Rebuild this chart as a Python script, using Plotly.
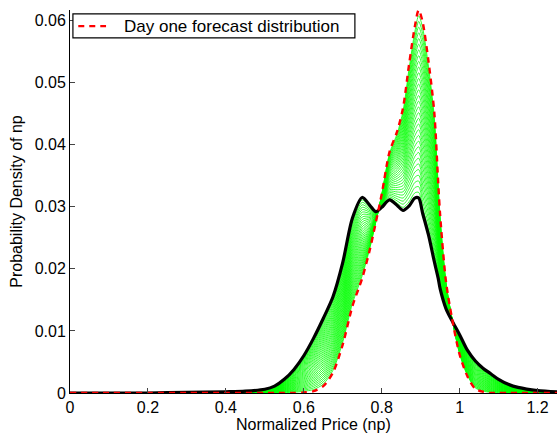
import plotly.graph_objects as go

# Normalized price grid (np)
price = [0, 0.1, 0.2, 0.3, 0.4, 0.45, 0.5, 0.525, 0.55, 0.575, 0.6, 0.625,
         0.65, 0.675, 0.7, 0.725, 0.75, 0.77, 0.785, 0.8, 0.82, 0.84, 0.855,
         0.87, 0.885, 0.895, 0.905, 0.92, 0.935, 0.945, 0.95, 0.965, 0.98,
         1.0, 1.02, 1.04, 1.06, 1.08, 1.1, 1.125, 1.15, 1.2, 1.25]

# Day one forecast density
day_one = [0, 0, 0, 0, 0, 0, 0, 0, 0, 0, 0.0001, 0.0003,
           0.0011, 0.0033, 0.0078, 0.014, 0.0185, 0.0232, 0.0275, 0.032, 0.0388, 0.0422, 0.046,
           0.0528, 0.059, 0.0617, 0.0598, 0.0535, 0.0452, 0.034, 0.0287, 0.018, 0.0122,
           0.0062, 0.0027, 0.0007, 0.0002, 0, 0, 0, 0, 0, 0]

# Final-day forecast density
final_day = [0, 0, 0, 0.0001, 0.0002, 0.0003, 0.0006, 0.0011, 0.0022, 0.0038, 0.006, 0.0088,
             0.012, 0.0155, 0.021, 0.0282, 0.0315, 0.0302, 0.0292, 0.0299, 0.0311, 0.0302, 0.0294,
             0.0301, 0.0314, 0.0314, 0.029, 0.0255, 0.0212, 0.0185, 0.0168, 0.0136, 0.0117,
             0.0094, 0.0069, 0.0052, 0.004, 0.0031, 0.0022, 0.0014, 0.0009, 0.0004, 0.0002]

# Number of intermediate daily forecasts between day one and the final day
n_days = 33

x_ticks = [0, 0.2, 0.4, 0.6, 0.8, 1.0, 1.2]
y_ticks = [0, 0.01, 0.02, 0.03, 0.04, 0.05, 0.06]

legend_label = "Day one forecast distribution"
x_title = "Normalized Price (np)"
y_title = "Probability Density of np"

RED_DASH = "6px,5px"
FAMILY = "Liberation Sans, Arial, sans-serif"

fig = go.Figure()

# Intermediate forecasts drift from the day one shape toward the final shape
for k in range(1, n_days):
    w = k / n_days
    dens = [a + w * (b - a) for a, b in zip(day_one, final_day)]
    fig.add_trace(go.Scatter(
        x=price, y=dens, mode="lines",
        line=dict(color="#00ff00", width=0.8, shape="spline", smoothing=0.8),
        showlegend=False, hoverinfo="skip"))

fig.add_trace(go.Scatter(
    x=price, y=final_day, mode="lines",
    line=dict(color="black", width=3.2, shape="spline", smoothing=0.8),
    showlegend=False))

fig.add_trace(go.Scatter(
    x=price, y=day_one, mode="lines", name=legend_label,
    line=dict(color="red", width=2.4, dash=RED_DASH, shape="spline", smoothing=0.8),
    showlegend=False))

font = dict(family=FAMILY, size=17, color="black")
label_font = dict(family=FAMILY, size=16, color="black")

# Boxed legend in the upper-left corner of the axes
fig.add_shape(type="rect", xref="paper", yref="paper",
              x0=0.006, x1=0.585, y0=0.927, y1=0.99,
              line=dict(color="black", width=1.2), fillcolor="white", layer="above")
fig.add_shape(type="line", xref="paper", yref="paper",
              x0=0.017, x1=0.074, y0=0.958, y1=0.958,
              line=dict(color="red", width=2.4, dash=RED_DASH), layer="above")
fig.add_annotation(text=legend_label, xref="paper", yref="paper",
                   x=0.106, y=0.958, xanchor="left", yanchor="middle",
                   showarrow=False, font=font)

# Horizontal axis title sits at the bottom edge of the figure
fig.add_annotation(text=x_title, xref="paper", yref="paper",
                   x=0.5, y=-41 / 383, xanchor="center", yanchor="bottom",
                   showarrow=False, font=label_font, borderpad=0)

fig.update_layout(
    width=558, height=434,
    margin=dict(l=70, r=1, t=10, b=41),
    paper_bgcolor="white", plot_bgcolor="white",
    font=font,
    showlegend=False,
    xaxis=dict(range=[0, 1.25], tickvals=x_ticks, ticks="inside", ticklen=5,
               showline=True, linecolor="black", linewidth=1, showgrid=False,
               zeroline=False, tickfont=label_font),
    yaxis=dict(range=[0, 0.0617], tickvals=y_ticks, ticks="inside", ticklen=5,
               showline=True, linecolor="black", linewidth=1, showgrid=False,
               zeroline=False, tickfont=label_font,
               title=dict(text=y_title, font=label_font, standoff=8)),
)

fig.write_html("out.html")
